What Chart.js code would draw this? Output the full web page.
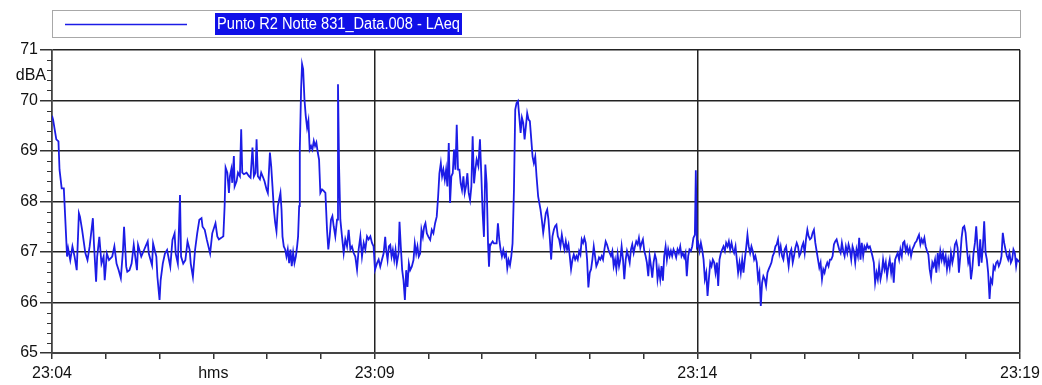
<!DOCTYPE html>
<html>
<head>
<meta charset="utf-8">
<script src="https://cdn.jsdelivr.net/npm/chart.js@4/dist/chart.umd.min.js"></script>
<style>
  html, body { margin: 0; padding: 0; background: #fff; }
  #wrap { width: 1042px; height: 385px; }
</style>
</head>
<body>
<div id="wrap"><canvas id="chart" width="1042" height="385"></canvas></div>
<script>
// series name shown in the legend
const seriesName = 'Punto R2 Notte 831_Data.008 - LAeq';

// x labels (seconds after 23:04:00)
const labelSeconds = [0, 150, 300, 600, 900];
const labelTexts = ['23:04', 'hms', '23:09', '23:14', '23:19'];

// time of each reading, seconds after 23:04:00
const seconds = [
  0, 1, 4, 6, 7, 9, 11, 14, 15, 17,
  19, 21, 23, 25, 26, 28, 31, 33, 35, 38,
  39, 41, 42, 44, 46, 48, 49, 51, 53, 56,
  58, 60, 62, 64, 66, 67, 69, 70, 72, 74,
  76, 79, 80, 83, 85, 87, 89, 90, 93, 94,
  97, 98, 100, 101, 103, 105, 107, 110, 112, 114,
  115, 117, 119, 120, 122, 124, 126, 128, 129, 131,
  133, 135, 137, 139, 140, 142, 144, 147, 149, 152,
  153.7, 155.2, 157.4, 159.3, 160.5, 161.4, 163.0, 164.5, 165.4, 166.7,
  167.6, 169.1, 169.8, 171.6, 172.9, 174.7, 175.9, 176.9, 178.4, 180.9,
  183.1, 184.6, 186.4, 187.7, 189.2, 190.2, 191.4, 193.3, 194.5, 196.4,
  197.6, 199.5, 200.7, 202.6, 203.8, 205.0, 206.3, 207.5, 208.7, 210.0,
  211.2, 212.4, 213.4, 214.3, 215.5, 216.8, 218.0, 219.2, 220.5, 221.7,
  222.9, 224.2, 225.4, 226.7, 227.9, 228.8, 229.8, 230.4, 231.6, 232.5,
  233.5, 234.7, 235.9, 237.2, 238.4, 239.6, 240.9, 242.1, 243.4, 244.6,
  245.8, 247.1, 248.3, 249.5, 251.1, 252.6, 254.2, 255.7, 256.9, 258.2,
  259.4, 260.7, 261.9, 263.4, 265.0, 265.9, 266.9, 268.1, 269.6, 271.2,
  272.7, 274.3, 275.8, 277.4, 278.9, 280.5, 282.0, 283.6, 285.1, 286.7,
  288.2, 289.8, 291.3, 292.9, 294.4, 296.0, 297.5, 299.0, 300.3, 302.2,
  303.7,
  305.2, 306.7, 308.3, 309.8, 310.7, 312.0, 313.2, 314.5, 315.7, 316.9,
  318.2, 319.4, 320.6, 322.2, 323.1, 324.3, 325.6, 326.8, 328.1, 329.3,
  330.5, 331.8, 333.0, 334.5, 336.1, 337.3, 338.6, 339.8, 341.0, 342.3,
  343.5, 344.8, 346.0, 347.2, 348.5, 350.0, 351.6, 353.1, 354.6, 356.2,
  357.7, 359.0, 360.2, 361.5, 362.7, 363.9, 365.2, 366.4, 367.6, 368.9,
  370.1, 371.3, 372.6, 373.8, 375.1, 376.3, 377.5, 378.8, 380.0, 381.2,
  382.5, 383.7, 384.9, 386.2, 387.4, 388.7, 389.9, 391.1, 392.4, 393.6,
  394.8, 396.4, 397.9, 399.2, 400.4, 401.6, 402.9, 404.1, 405.4, 406.3,
  407.2, 408.4, 409.7, 410.9, 412.2, 413.4, 414.6, 415.9, 417.1, 418.3,
  419.6, 420.8, 422.1, 423.3, 424.5, 425.8, 427.0, 428.2, 429.5, 430.7,
  431.9, 433.2, 434.4, 435.7, 436.9, 438.1, 439.4, 440.6, 441.8, 443.1,
  444.3, 445.6, 446.8, 448.0, 449.3, 450.5, 452.0,
  454.2, 455.4, 456.7, 457.9, 459.1, 460.4, 461.6, 462.9, 464.1, 465.3,
  466.6, 467.8, 469.0, 470.3, 471.5, 472.7, 474.0, 475.2, 476.5, 477.7,
  478.9, 480.2, 481.4, 482.6, 483.9, 485.1, 486.4, 487.6, 488.8, 490.1,
  491.3, 492.5, 493.8, 495.0, 496.2, 497.5, 498.7, 500.0, 501.2, 502.4,
  503.7, 504.9, 506.1, 507.4, 508.6, 509.8, 511.1, 512.3, 513.6, 514.8,
  516.0, 517.3, 518.5, 519.7, 521.0, 522.2, 523.5, 524.7, 525.9, 527.2,
  528.4, 529.6, 530.9, 532.1, 533.4, 534.6, 535.8, 537.1, 538.3, 539.5,
  540.8, 542.0, 543.2, 544.5, 545.7, 547.0, 548.2, 549.4, 550.7, 551.9,
  553.1, 554.4, 555.6, 556.9, 558.1, 559.3, 560.6, 561.8, 563.0, 564.3,
  565.5, 566.7, 568.0, 569.2, 570.5, 571.7, 572.9, 574.2, 575.4, 576.6,
  577.9, 579.1, 580.3, 581.6, 582.8, 584.1, 585.3, 586.5, 587.8, 589.0,
  590.2, 591.5, 592.7, 594.0, 595.2, 596.4, 597.7, 598.6,
  599.6, 600.8, 602.1, 603.3, 604.5, 605.8, 607.0, 608.3, 609.5, 610.7,
  612.0, 613.2, 614.4, 615.7, 616.9, 618.2, 619.4, 620.6, 621.9, 623.1,
  624.3, 625.6, 626.8, 628.1, 629.3, 630.5, 631.8, 633.0, 634.2, 635.5,
  636.7, 637.9, 639.2, 640.4, 641.7, 642.9, 644.1, 645.4, 646.6, 647.8,
  649.1, 650.3, 651.5, 652.8, 654.0, 655.3, 656.5, 657.7, 659.0, 660.2,
  661.4, 662.7, 663.9, 665.2, 666.4, 667.6, 668.9, 670.1, 671.3, 672.6,
  673.8, 675.0, 676.3, 677.5, 678.8, 680.0, 681.2, 682.5, 683.7, 684.9,
  686.2, 687.4, 688.7, 689.9, 691.1, 692.4, 693.6, 694.8, 696.1, 697.3,
  698.5, 699.8, 701.0, 702.3, 703.5, 704.7, 706.0, 707.2, 708.4, 709.7,
  710.9, 712.2, 713.4, 714.6, 715.9, 717.1, 718.3, 719.6, 720.8, 722.0,
  723.3, 724.5, 725.8, 727.0, 728.2, 729.5, 730.7, 731.9, 733.2, 734.4,
  735.7, 736.9, 738.1, 739.4, 740.6, 741.8, 743.1, 744.3, 745.5, 746.8,
  748.0, 749.3,
  750.5, 751.7, 752.9, 754.2, 755.4, 756.7, 757.9, 759.1, 760.4, 761.6,
  762.8, 764.1, 765.3, 766.6, 767.8, 769.0, 770.3, 771.5, 772.7, 774.0,
  775.2, 776.4, 777.7, 778.9, 780.2, 781.4, 782.6, 783.9, 785.1, 786.3,
  787.6, 788.8, 790.1, 791.3, 792.5, 793.8, 795.0, 796.2, 797.5, 798.7,
  799.9, 801.2, 802.4, 803.7, 804.9, 806.1, 807.4, 808.6, 809.8, 811.1,
  812.3, 813.6, 814.8, 816.0, 817.3, 818.5, 819.7, 821.0, 822.2, 823.5,
  824.7, 825.9, 827.2, 828.4, 829.6, 830.9, 832.1, 833.3, 834.6, 835.8,
  837.1, 838.3, 839.5, 840.8, 842.0, 843.2, 844.5, 845.7, 846.9, 848.2,
  849.4, 850.7, 851.9, 853.1, 854.4, 855.6, 856.8, 858.1, 859.3, 860.5,
  861.8, 863.0, 864.3, 865.5, 866.7, 868.0, 869.2, 870.4, 871.7, 872.9,
  874.2, 875.4, 876.6, 877.9, 879.1, 880.3, 881.6, 882.8, 884.0, 885.3,
  886.5, 887.8, 889.0, 890.2, 891.5, 892.7, 893.9, 895.2, 896.4, 897.3,
  899.5
];

// LAeq readings, dBA
const laeq = [
  69.7, 69.62, 69.23, 69.19, 68.63, 68.26, 68.26, 66.91, 67.07, 66.84,
  67.11, 66.91, 66.64, 67.77, 67.70, 67.44, 66.98, 66.84, 67.11, 67.67,
  67.17, 66.41, 66.91, 67.30, 66.77, 66.91, 66.44, 66.97, 66.84, 66.91,
  67.11, 66.77, 66.64, 66.48, 67.04, 67.50, 66.71, 66.61, 66.64, 66.77,
  67.14, 66.64, 67.14, 66.91, 67.01, 67.11, 67.21, 66.97, 66.74, 67.17,
  66.91, 66.51, 66.05, 66.44, 66.77, 66.97, 67.04, 66.71, 67.24, 67.37,
  66.97, 66.77, 68.13, 66.91, 66.77, 66.84, 67.21, 67.04, 66.77, 66.51,
  67.04, 67.37, 67.64, 67.67, 67.50, 67.44, 67.24, 66.97, 67.37, 67.57,
  67.31, 67.25, 67.28, 67.31, 67.91, 68.67, 68.57, 68.17, 68.50, 68.64,
  68.37, 68.90, 68.30, 68.40, 68.57, 68.50, 69.43, 68.57, 68.54, 68.57,
  68.50, 68.47, 69.07, 68.50, 68.57, 69.23, 68.50, 68.44, 68.57, 68.47,
  68.40, 68.24, 68.17, 68.97, 68.70, 68.30, 67.84, 67.58, 67.41, 67.91,
  68.04, 68.17, 67.84, 67.31, 67.11, 67.05, 66.91, 67.05, 66.78, 67.05,
  66.72, 66.99, 66.78, 66.91, 67.11, 67.31, 67.91, 69.03, 70.23, 70.72,
  70.62, 70.03, 69.70, 69.46, 69.60, 69.03, 69.10, 69.03, 69.20, 69.10,
  69.17, 68.97, 68.83, 68.17, 68.24, 68.21, 68.17, 67.44, 67.05, 67.31,
  67.64, 67.71, 67.51, 67.31, 67.64, 70.32, 68.70, 67.64, 67.31, 66.98,
  67.25, 67.11, 67.44, 67.05, 67.11, 66.98, 66.91, 66.65, 67.05, 67.31,
  66.91, 67.18, 67.05, 67.31, 67.25, 67.31, 67.18, 67.11, 66.65, 66.78,
  66.85,
  66.71, 66.84, 66.97, 67.30, 67.04, 66.84, 67.11, 67.14, 66.91, 67.04,
  66.84, 67.04, 66.77, 66.97, 67.60, 67.11, 66.64, 66.44, 66.05, 66.64,
  66.31, 66.77, 66.64, 66.71, 66.84, 67.17, 66.97, 67.11, 66.91, 66.97,
  67.44, 67.30, 67.50, 67.57, 67.37, 67.30, 67.24, 67.44, 67.37, 67.57,
  67.70, 68.10, 68.56, 68.76, 68.50, 68.63, 68.43, 68.63, 68.30, 69.16,
  67.97, 68.50, 68.56, 69.03, 68.63, 69.52, 68.63, 68.63, 68.36, 68.23,
  68.50, 68.17, 68.30, 68.56, 68.17, 68.03, 68.30, 69.29, 68.36, 68.63,
  68.83, 68.70, 69.23, 68.50, 67.77, 67.30, 68.73, 68.36, 67.17, 66.71,
  67.11, 67.17, 67.21, 67.17, 67.17, 67.17, 67.57, 67.24, 67.04, 66.91,
  67.04, 66.91, 66.97, 66.68, 66.84, 66.74, 66.91, 67.17, 68.23, 69.82,
  69.95, 69.99, 69.69, 69.36, 69.66, 69.56, 69.23, 69.49, 69.75, 69.62,
  69.59, 69.23, 68.89, 68.76, 68.89, 68.50, 68.10,
  67.84, 67.64, 67.38, 67.57, 67.77, 67.84, 67.64, 67.25, 66.85, 67.31,
  67.44, 67.51, 67.54, 67.31, 67.25, 67.11, 67.34, 67.18, 67.05, 67.21,
  67.05, 67.15, 66.92, 66.66, 66.85, 66.95, 66.85, 66.92, 66.85, 67.02,
  66.95, 67.25, 67.18, 67.28, 67.18, 66.85, 66.30, 66.59, 66.66, 66.85,
  67.11, 66.92, 66.72, 66.79, 66.89, 66.85, 66.92, 66.85, 67.05, 67.21,
  67.15, 67.05, 66.98, 66.92, 67.02, 66.72, 66.85, 66.66, 66.95, 66.72,
  66.85, 67.11, 66.85, 66.46, 66.85, 67.02, 66.92, 66.79, 67.05, 67.15,
  66.98, 67.11, 67.21, 67.15, 67.28, 67.08, 67.18, 67.25, 67.02, 66.92,
  66.79, 66.52, 66.92, 66.72, 66.49, 66.79, 66.95, 66.85, 66.46, 66.66,
  66.46, 66.72, 66.43, 66.92, 67.11, 66.85, 67.05, 66.92, 67.02, 66.92,
  67.05, 66.98, 66.89, 67.05, 66.98, 67.11, 66.92, 66.98, 66.89, 66.98,
  66.52, 66.92, 67.05, 67.02, 67.11, 67.28, 67.34, 68.62,
  67.11, 67.18, 67.02, 67.18, 67.05, 66.85, 66.46, 66.59, 66.13, 66.46,
  66.79, 66.72, 66.85, 66.79, 66.59, 66.79, 66.33, 66.85, 66.98, 67.05,
  67.11, 67.02, 67.18, 67.11, 67.21, 67.05, 67.18, 67.05, 66.98, 67.11,
  66.85, 66.59, 66.79, 66.59, 66.85, 66.59, 66.85, 67.08, 67.34, 67.11,
  66.98, 67.11, 67.02, 66.85, 66.92, 66.79, 66.46, 66.59, 65.93, 66.39,
  66.52, 66.46, 66.33, 66.59, 66.66, 66.72, 66.79, 66.92, 66.98, 67.11,
  67.15, 67.25, 66.98, 67.11, 66.92, 66.85, 67.05, 67.11, 66.92, 66.72,
  66.98, 67.05, 66.79, 66.92, 67.08, 67.18, 67.11, 66.92, 66.98, 67.11,
  67.18, 66.98, 67.25, 67.44, 67.31, 67.25, 67.28, 67.38, 67.44, 67.18,
  67.02, 66.85, 66.69, 66.79, 66.46, 66.66, 66.59, 66.72, 66.79, 66.72,
  66.85, 66.85, 66.92, 67.15, 67.21, 67.25, 67.15, 67.05, 66.98, 67.18,
  67.02, 66.92, 67.11, 66.98, 67.15, 67.05, 66.85, 67.11, 67.02, 66.79,
  67.05, 66.92,
  67.28, 66.85, 67.18, 66.92, 67.11, 67.05, 67.15, 67.08, 67.11, 67.02,
  66.92, 66.79, 66.39, 66.59, 66.46, 66.72, 66.46, 66.59, 66.85, 66.66,
  66.79, 66.52, 66.72, 66.85, 66.59, 66.79, 66.39, 66.85, 66.92, 66.98,
  66.85, 67.05, 66.92, 67.18, 67.21, 67.02, 67.11, 66.98, 67.08, 66.92,
  67.05, 67.11, 67.18, 67.21, 67.28, 67.34, 67.15, 67.25, 67.18, 67.28,
  67.11, 67.02, 66.95, 66.66, 66.49, 66.79, 66.72, 66.85, 66.59, 66.98,
  66.75, 67.02, 66.85, 66.98, 66.79, 66.92, 66.66, 66.85, 66.69, 66.98,
  66.79, 66.92, 67.15, 67.21, 67.08, 66.59, 66.92, 67.28, 67.48, 67.51,
  67.38, 67.05, 66.79, 66.89, 66.46, 66.66, 66.98, 67.18, 67.51, 67.11,
  66.72, 67.25, 66.79, 67.11, 67.61, 66.98, 66.85, 66.59, 66.07, 66.46,
  66.39, 66.72, 66.66, 66.79, 66.82, 66.72, 66.79, 66.92, 67.38, 67.18,
  67.05, 66.92, 66.85, 66.98, 66.79, 66.85, 67.05, 66.98, 66.72, 66.85,
  66.8
];

const FONT = "'Liberation Sans', Arial, sans-serif";
const INK = '#222';
const LINE_BLUE = '#1c1ce6';

const n = Math.min(seconds.length, laeq.length);
if (seconds.length !== laeq.length) console.warn('length mismatch', seconds.length, laeq.length);
const points = [];
for (let i = 0; i < n; i++) points.push({ x: seconds[i], y: laeq[i] });

// legend box, minor y ticks and unit label
const decorPlugin = {
  id: 'decor',
  afterDraw(chart) {
    const c = chart.ctx;
    const area = chart.chartArea;
    const ys = chart.scales.y;
    c.save();

    // legend frame
    c.strokeStyle = '#a8a8a8';
    c.lineWidth = 1;
    c.strokeRect(area.left + 0.5, 10.5, area.right - area.left, 27);
    c.strokeStyle = LINE_BLUE;
    c.lineWidth = 1.5;
    c.beginPath();
    c.moveTo(65, 24.5);
    c.lineTo(187, 24.5);
    c.stroke();

    // highlighted series name, squeezed to the original's width
    c.font = '16px ' + FONT;
    const w = c.measureText(seriesName).width;
    const sx = Math.min(1, 243 / w);
    c.fillStyle = '#1010e8';
    c.fillRect(215, 13, w * sx + 4, 22);
    c.save();
    c.translate(217, 24.5);
    c.scale(sx, 1);
    c.fillStyle = '#fff';
    c.textBaseline = 'middle';
    c.fillText(seriesName, 0, 0);
    c.restore();

    // minor ticks every 0.2 dB
    c.strokeStyle = '#333';
    c.lineWidth = 1;
    for (let v = ys.min; v < ys.max; v++) {
      for (let k = 1; k < 5; k++) {
        const y = Math.round(ys.getPixelForValue(v + k * 0.2)) + 0.5;
        c.beginPath();
        c.moveTo(area.left - 5, y);
        c.lineTo(area.left, y);
        c.stroke();
      }
    }

    // unit
    c.fillStyle = '#111';
    c.font = '16px ' + FONT;
    c.textAlign = 'right';
    c.textBaseline = 'middle';
    c.fillText('dBA', 46, ys.getPixelForValue(70.5));
    c.restore();
  }
};

new Chart(document.getElementById('chart'), {
  type: 'line',
  data: {
    datasets: [{
      label: seriesName,
      data: points,
      borderColor: LINE_BLUE,
      borderWidth: 1.8,
      pointRadius: 0,
      tension: 0,
      fill: false
    }]
  },
  options: {
    responsive: false,
    animation: false,
    devicePixelRatio: 1,
    layout: { padding: { top: 50, right: 22, left: 0, bottom: 0 } },
    plugins: { legend: { display: false }, tooltip: { enabled: false } },
    scales: {
      x: {
        type: 'linear',
        min: 0,
        max: 900,
        afterFit(scale) {
          scale.height = 32;
          scale.paddingLeft = 0;
          scale.paddingRight = 0;
        },
        ticks: {
          stepSize: 50,
          autoSkip: false,
          maxRotation: 0,
          padding: 5,
          color: '#111',
          font: { family: FONT, size: 16 },
          callback(value) {
            const i = labelSeconds.indexOf(value);
            return i >= 0 ? labelTexts[i] : '';
          }
        },
        grid: {
          color: (ctx) => (ctx.tick && ctx.tick.value % 300 === 0 ? INK : 'rgba(0,0,0,0)'),
          lineWidth: 1.5,
          tickColor: '#333',
          tickLength: 6
        },
        border: { color: '#444', width: 2 }
      },
      y: {
        min: 65,
        max: 71,
        afterFit(scale) { scale.width = 52; },
        ticks: {
          stepSize: 1,
          padding: 2,
          color: '#111',
          font: { family: FONT, size: 16 }
        },
        grid: {
          color: INK,
          lineWidth: 1.5,
          tickColor: '#333',
          tickLength: 12
        },
        border: { color: '#444', width: 1.5 }
      }
    }
  },
  plugins: [decorPlugin]
});
</script>
</body>
</html>
